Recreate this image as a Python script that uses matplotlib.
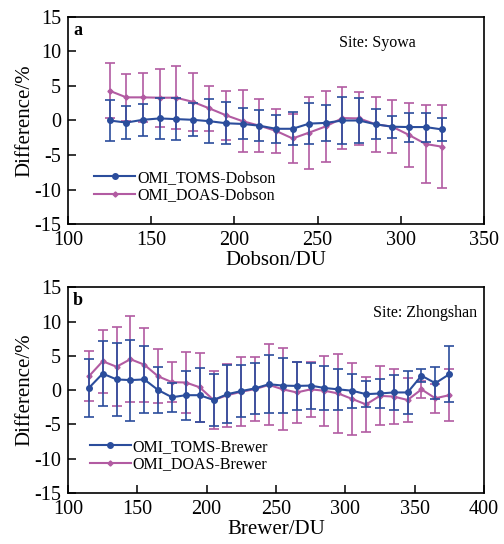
"""Difference between OMI products and ground-based ozone at Syowa and Zhongshan."""

import matplotlib as mpl
import matplotlib.pyplot as plt
from matplotlib.lines import Line2D

mpl.rcParams.update({
    "font.family": ["Liberation Serif", "DejaVu Serif"],
    "xtick.direction": "in",
    "ytick.direction": "in",
    "axes.linewidth": 1.2,
    "axes.unicode_minus": False,
})

BLUE = "#2b4d9c"
PINK = "#b25ba2"

# panel a: Syowa, Dobson
dobson_du = [125, 135, 145, 155, 165, 175, 185, 195, 205, 215, 225,
             235, 245, 255, 265, 275, 285, 295, 305, 315, 325]
toms_dobson = [0.0, -0.3, 0.1, 0.3, 0.2, 0.1, -0.1, -0.4, -0.5, -0.75, -1.2,
               -1.2, -0.45, -0.35, 0.0, 0.0, -0.55, -0.9, -0.95, -0.95, -1.3]
toms_dobson_err = [2.9, 2.4, 2.3, 3.0, 3.0, 2.4, 3.15, 3.05, 2.25, 2.25, 2.0,
                   2.4, 3.0, 2.55, 3.4, 3.2, 2.15, 1.6, 2.1, 2.1, 1.65]
doas_dobson = [4.3, 3.35, 3.35, 3.3, 3.3, 2.7, 1.75, 0.75, -0.1, -0.75, -1.5,
               -2.6, -1.75, -0.85, 0.35, 0.3, -0.55, -0.9, -2.1, -3.4, -3.8]
doas_dobson_err = [3.95, 3.4, 3.5, 4.2, 4.6, 4.2, 3.2, 3.55, 4.45, 3.8, 3.2,
                   3.5, 5.2, 5.1, 4.5, 3.8, 4.0, 3.8, 4.65, 5.6, 6.0]

# panel b: Zhongshan, Brewer
brewer_du = [115, 125, 135, 145, 155, 165, 175, 185, 195, 205, 215, 225, 235, 245,
             255, 265, 275, 285, 295, 305, 315, 325, 335, 345, 355, 365, 375]
toms_brewer = [0.3, 2.4, 1.55, 1.45, 1.55, 0.0, -1.05, -0.75, -0.75, -1.45, -0.6,
               -0.15, 0.25, 0.85, 0.65, 0.6, 0.65, 0.3, 0.1, -0.1, -0.6, -0.5,
               -0.35, -0.35, 2.1, 1.0, 2.3]
toms_brewer_err = [4.2, 4.75, 5.3, 5.9, 4.9, 3.3, 2.15, 3.6, 3.9, 3.8, 4.2, 3.75,
                   3.7, 4.2, 4.05, 3.5, 3.35, 3.2, 2.95, 2.5, 1.9, 2.1, 2.6, 3.15,
                   0.9, 2.3, 4.1]
doas_brewer = [2.0, 4.2, 3.4, 4.5, 3.7, 2.0, 1.15, 1.1, 0.4, -1.45, -0.75, -0.25,
               0.15, 0.75, 0.1, -0.35, 0.1, -0.1, -0.5, -1.3, -2.1, -0.85, -0.95,
               -1.45, 0.1, -1.2, -0.75]
doas_brewer_err = [3.65, 4.6, 5.8, 6.3, 5.4, 3.95, 2.9, 4.5, 5.0, 4.2, 4.6, 5.0,
                   4.6, 5.9, 6.0, 4.45, 4.05, 5.1, 5.7, 5.25, 4.05, 4.3, 3.95,
                   3.2, 1.25, 2.1, 3.8]


def _panel(ax, x, toms, toms_err, doas, doas_err, ground, letter, site, site_xy,
           site_ha, xlim, xticks, legend_x):
    style_t = dict(color=BLUE, marker="o", ms=4, lw=1.5)
    style_d = dict(color=PINK, marker="D", ms=2.6, lw=1.5)
    ax.errorbar(x, toms, yerr=toms_err, elinewidth=1.2, capsize=3.6, capthick=1.2,
                zorder=3, **style_t)
    ax.errorbar(x, doas, yerr=doas_err, elinewidth=1.2, capsize=3.6, capthick=1.2,
                zorder=2, **style_d)
    ax.set_xlim(*xlim)
    ax.set_ylim(-15, 15)
    ax.set_xticks(xticks)
    ax.set_yticks(range(-15, 16, 5))
    ax.tick_params(labelsize=14.5, length=6, width=1.1)
    ax.tick_params(axis="x", pad=5)
    ax.tick_params(axis="y", pad=5)
    ax.set_xlabel(f"{ground}/DU", fontsize=15, labelpad=0.5)
    ax.set_ylabel("Difference/%", fontsize=15, labelpad=0)
    ax.text(0.012, 0.975, letter, transform=ax.transAxes, fontsize=13,
            fontweight="bold", ha="left", va="top")
    ax.text(site_xy[0], site_xy[1], f"Site: {site}", transform=ax.transAxes,
            fontsize=11.5, ha=site_ha, va="center")
    handles = [Line2D([], [], **style_t), Line2D([], [], **style_d)]
    labels = [f"OMI_TOMS-{ground}", f"OMI_DOAS-{ground}"]
    ax.legend(handles, labels, loc="lower left", bbox_to_anchor=(legend_x, 0.045),
              frameon=False, fontsize=11.5, handlelength=2.6, handletextpad=0.1,
              labelspacing=0.1, borderaxespad=0.3)


fig = plt.figure(figsize=(5.04, 5.44), dpi=100)
ax_a = fig.add_axes([0.135, 0.588, 0.825, 0.381])
ax_b = fig.add_axes([0.135, 0.094, 0.825, 0.378])

_panel(ax_a, dobson_du, toms_dobson, toms_dobson_err, doas_dobson, doas_dobson_err,
       "Dobson", "a", "Syowa", (0.745, 0.874), "center", (100, 350),
       range(100, 351, 50), 0.035)
_panel(ax_b, brewer_du, toms_brewer, toms_brewer_err, doas_brewer, doas_brewer_err,
       "Brewer", "b", "Zhongshan", (0.985, 0.874), "right", (100, 400),
       range(100, 401, 50), 0.025)

fig.savefig("out.png", dpi=100)
plt.close(fig)
